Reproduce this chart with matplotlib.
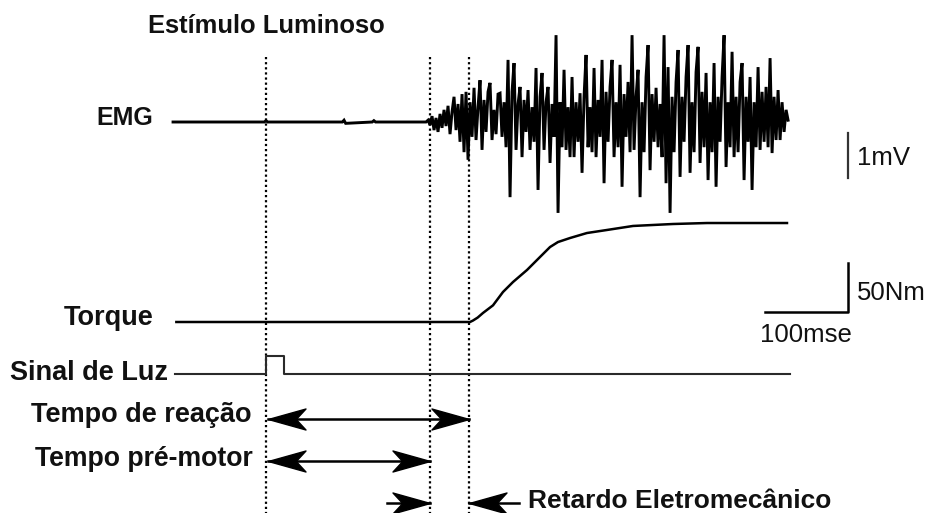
import numpy as np
import matplotlib
matplotlib.use("Agg")
import matplotlib.pyplot as plt
from matplotlib.path import Path

plt.rcParams['font.family'] = ['Liberation Sans', 'DejaVu Sans']

# ---------------- data ----------------
# event times (ms, stimulus onset = 0)
t_stimulus = 0.0
t_premotor = 198.0      # EMG onset
t_reaction = 245.0      # torque onset

# EMG (mV): quiet baseline before onset, then burst sampled every 2.41 ms
emg_pre_t = [-112, -2, 0, 2, 92, 94, 96, 128, 130, 132, 192.8]
emg_pre_v = [0, 0, 0.03, 0, 0, 0.04, -0.03, 0, 0.03, 0, 0]
emg_burst_start = 192.8
emg_burst_dt = 2.41
emg_burst_v = [
    0.00, 0.04, -0.07, 0.13, -0.18, 0.09, -0.22, 0.18, -0.13, 0.27,
    -0.09, 0.36, -0.27, 0.22, 0.56, -0.18, 0.40, -0.44, 0.62, -0.67,
    0.67, -0.84, 0.44, -0.33, 0.76, -0.40, 0.33, 0.93, -0.62, 0.49,
    -0.22, 0.67, 0.87, -0.40, 0.27, -0.27, 0.62, 0.64, -0.33, 0.44,
    -0.56, 1.38, -1.67, 0.67, 1.31, -0.62, 0.40, 0.78, -0.78, 0.49,
    -0.22, 0.71, -0.62, 0.33, -0.44, 1.20, -1.51, 0.56, 1.09, -0.62,
    0.44, 0.78, -0.91, 0.40, -0.33, 1.93, -2.02, 0.44, -0.56, 1.16,
    -0.62, 0.33, -0.78, 1.00, -0.78, 0.44, -0.44, 0.64, -1.13, 0.56,
    1.49, -0.56, 0.33, -0.67, 1.20, -0.78, 0.49, -0.33, 1.38, -1.36,
    0.67, -0.44, 0.78, 1.38, -0.78, 0.44, -0.56, 1.27, -1.44, 0.62,
    -0.33, 0.89, -0.67, 1.93, -0.62, 0.56, 1.16, -1.67, 0.44, -0.67,
    1.00, 1.71, -1.07, 0.62, -0.44, 0.76, -0.56, 0.40, -0.78, 1.93,
    -1.36, 1.22, -2.02, 0.56, -0.67, 0.89, 1.60, -1.22, 0.56, -0.44,
    1.00, 1.71, -1.13, 0.44, -0.67, 1.11, 1.67, -0.91, 0.67, -0.56,
    1.09, -1.29, 0.44, -0.67, 1.31, -1.44, 0.56, -0.44, 1.00, 1.93,
    -1.00, 0.44, -0.56, 1.56, -0.78, 0.56, -0.67, 0.89, 1.31, -1.29,
    0.56, -0.44, 1.00, -1.51, 0.44, -0.56, 1.22, -0.62, 0.67, -0.44,
    0.78, -0.56, 1.42, -0.69, 0.56, -0.40, 0.71, -0.40, 0.44, -0.22,
    0.27, 0.04,
]

# Torque (Nm)
torque_t = [-108, 245.8, 249.4, 255.0, 261.4, 273.5, 285.5, 297.6, 314.5, 330.1,
            342.2, 351.8, 366.3, 386.7, 410.8, 442.2, 490.4, 531.3, 627.7]
torque_v = [0, 0, 1.5, 4.5, 9.2, 17.0, 30.6, 40.8, 53.1, 66.3,
            76.5, 81.6, 85.7, 90.8, 93.9, 98.0, 100.0, 101.0, 101.0]

# Light signal (on/off)
light_t = [-110, 0, 0, 21.7, 21.7, 631]
light_v = [0, 0, 1, 1, 0, 0]

# scale bars
scale_emg_mv = 1.0
scale_torque_nm = 50.0
scale_time_ms = 100.0

# ---------------- figure ----------------
W, H = 928, 513
fig = plt.figure(figsize=(W / 100, H / 100), dpi=100)
xlim = (-266 / 0.83, (W - 266) / 0.83)

def overlay(ylim):
    a = fig.add_axes([0, 0, 1, 1])
    a.set_xlim(*xlim)
    a.set_ylim(*ylim)
    a.axis('off')
    a.patch.set_alpha(0)
    return a

# layout axes: x in ms, y in pixels from top
ax = overlay((H, 0))
ax_emg = overlay(((122 - H) / 45.0, 122 / 45.0))
ax_tq = overlay(((322 - H) / 0.98, 322 / 0.98))
ax_li = overlay(((374 - H) / 18.0, 374 / 18.0))

# traces
emg_t = np.concatenate([emg_pre_t,
                        emg_burst_start + emg_burst_dt * np.arange(len(emg_burst_v))])
emg_v = np.concatenate([emg_pre_v, emg_burst_v])
ax_emg.plot(emg_t, emg_v, color='black', lw=2.1, solid_joinstyle='miter')
ax_tq.plot(torque_t, torque_v, color='black', lw=1.8)
ax_li.plot(light_t, light_v, color='#2a2a2a', lw=1.5)

# scale bars
ax_emg.plot([701, 701], [-0.25, -0.25 - scale_emg_mv], color='#333333', lw=1.6)
ax_tq.plot([701 - scale_time_ms, 701, 701], [10, 10, 10 + scale_torque_nm],
           color='black', lw=1.8)

# dotted event lines
for tx in (t_stimulus, t_premotor, t_reaction):
    ax.plot([tx, tx], [57, H], color='black', lw=1.6, ls=(0, (1, 1.3)))

# swept-back arrowhead markers (tip at the marker position)
head_right = Path([(0, 0), (-1, 0.28), (-0.74, 0), (-1, -0.28), (0, 0)],
                  [Path.MOVETO, Path.LINETO, Path.LINETO, Path.LINETO, Path.CLOSEPOLY])
head_left = Path([(0, 0), (1, 0.28), (0.74, 0), (1, -0.28), (0, 0)],
                 [Path.MOVETO, Path.LINETO, Path.LINETO, Path.LINETO, Path.CLOSEPOLY])
HEAD_MS = 54

def arrow(x0, x1, y, both=False):
    ax.plot([x0, x1], [y, y], color='black', lw=1.8)
    ax.plot([x1], [y], marker=head_right if x1 > x0 else head_left,
            ms=HEAD_MS, color='black', mec='black', mew=1.0, ls='none')
    if both:
        ax.plot([x0], [y], marker=head_left if x1 > x0 else head_right,
                ms=HEAD_MS, color='black', mec='black', mew=1.0, ls='none')

arrow(t_stimulus + 2, t_reaction, 419, both=True)
arrow(t_stimulus + 2, t_premotor, 461, both=True)
arrow(146, t_premotor, 503)
arrow(305, t_reaction, 503)

# labels
def bold(size):
    return dict(fontsize=size, fontweight='bold', color='#111111')
reg = dict(fontsize=18.5, color='#111111')
ax.text(0, 33, 'Estímulo Luminoso', ha='center', va='baseline', **bold(18.4))
ax.text(-136, 125, 'EMG', ha='right', va='baseline', **bold(18))
ax.text(-135, 325, 'Torque', ha='right', va='baseline', **bold(19.5))
ax.text(-118, 380, 'Sinal de Luz', ha='right', va='baseline', **bold(19.5))
ax.text(-17, 422, 'Tempo de reação', ha='right', va='baseline', **bold(19.5))
ax.text(-16, 466, 'Tempo pré-motor', ha='right', va='baseline', **bold(19.2))
ax.text(316, 508, 'Retardo Eletromecânico', ha='left', va='baseline', **bold(19))
ax.text(712, 165, '1mV', ha='left', va='baseline', **reg)
ax.text(712, 300, '50Nm', ha='left', va='baseline', **reg)
ax.text(650, 342, '100mse', ha='center', va='baseline', **reg)

fig.savefig('out.png', dpi=100, facecolor='white')
